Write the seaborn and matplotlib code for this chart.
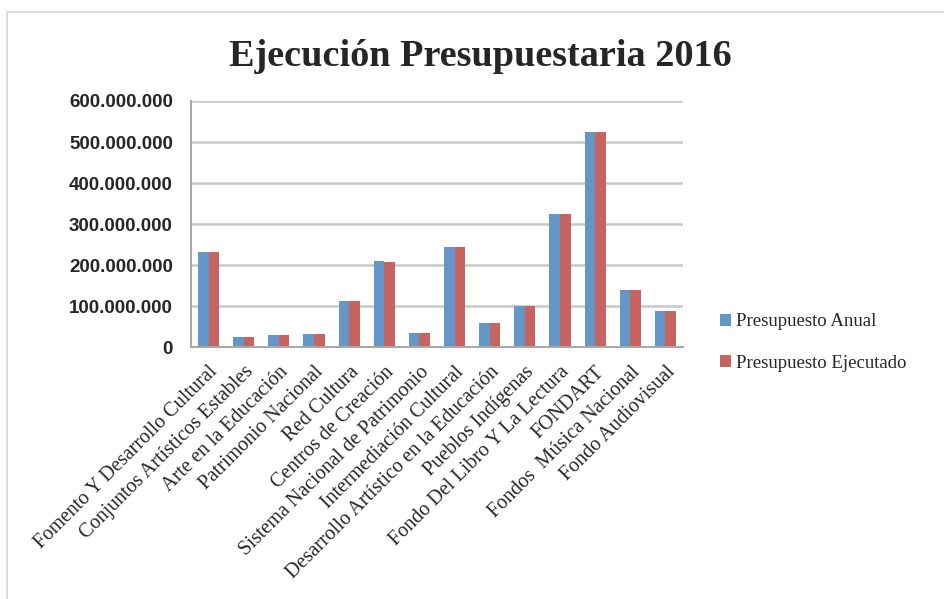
import pandas as pd
import seaborn as sns
import matplotlib.pyplot as plt
from matplotlib.ticker import FuncFormatter
from matplotlib.patches import Rectangle

# Data
programas = [
    'Fomento Y Desarrollo Cultural', 'Conjuntos Artísticos Estables',
    'Arte en la Educación', 'Patrimonio Nacional', 'Red Cultura',
    'Centros de Creación', 'Sistema Nacional de Patrimonio',
    'Intermediación Cultural', 'Desarrollo Artístico en la Educación',
    'Pueblos Indígenas', 'Fondo Del Libro Y La Lectura', 'FONDART',
    'Fondos  Música Nacional', 'Fondo Audiovisual',
]
anual = [232e6, 25e6, 29e6, 33e6, 113e6, 211e6, 36e6,
         244e6, 58e6, 101e6, 324e6, 524e6, 139e6, 88e6]
ejecutado = [232e6, 25e6, 29e6, 33e6, 113e6, 207e6, 36e6,
             244e6, 58e6, 101e6, 324e6, 524e6, 139e6, 88e6]

df = pd.DataFrame({'Programa': programas, 'Presupuesto Anual': anual,
                   'Presupuesto Ejecutado': ejecutado})
long_df = df.melt(id_vars='Programa', var_name='Serie', value_name='Monto')

sns.set_style('white')

fig = plt.figure(figsize=(9.44, 5.99), dpi=100)
ax = fig.add_axes([0.2023, 0.4202, 0.5212, 0.4112])

# chart frame like the spreadsheet export
fig.patches.append(Rectangle((7 / 944, -0.1), 1.2, 1 - 12 / 599 + 0.1,
                             transform=fig.transFigure, fill=False,
                             edgecolor='#d4d4d4', linewidth=1.2))

sns.barplot(data=long_df, x='Programa', y='Monto', hue='Serie',
            palette=['#6497c8', '#c8645f'], width=0.6, ax=ax,
            saturation=1, edgecolor='none')

ax.set_ylim(0, 600e6)
ax.set_yticks(range(0, 600_000_001, 100_000_000))
ax.yaxis.set_major_formatter(
    FuncFormatter(lambda v, p: f'{int(v):,}'.replace(',', '.')))
ax.grid(axis='y', color='#c8c8c8', linewidth=1.8)
ax.set_axisbelow(True)
for s in ['top', 'right']:
    ax.spines[s].set_visible(False)
for s in ['left', 'bottom']:
    ax.spines[s].set_color('#a8a8a8')
    ax.spines[s].set_linewidth(1.5)

for lbl in ax.get_yticklabels():
    lbl.set_fontfamily('Liberation Sans')
    lbl.set_fontweight('bold')
    lbl.set_fontsize(13.5)
ax.tick_params(axis='y', length=0, pad=13)
ax.tick_params(axis='x', length=0, pad=11)
ax.set_xticks(range(len(programas)))
ax.set_xticklabels(programas, rotation=45, ha='right', rotation_mode='anchor',
                   fontfamily='Liberation Serif', fontsize=14.5)
ax.set_xlabel('')
ax.set_ylabel('')

leg = ax.legend(loc='center left', bbox_to_anchor=(1.04, 0.02), frameon=False,
                prop={'family': 'Liberation Serif', 'size': 13.5},
                handlelength=0.6, handleheight=0.6, handletextpad=0.3,
                labelspacing=1.3)

fig.suptitle('Ejecución Presupuestaria 2016', x=0.509, y=0.935,
             fontfamily='Liberation Serif', fontweight='bold', fontsize=27.5)

fig.savefig('out.png', dpi=100)
